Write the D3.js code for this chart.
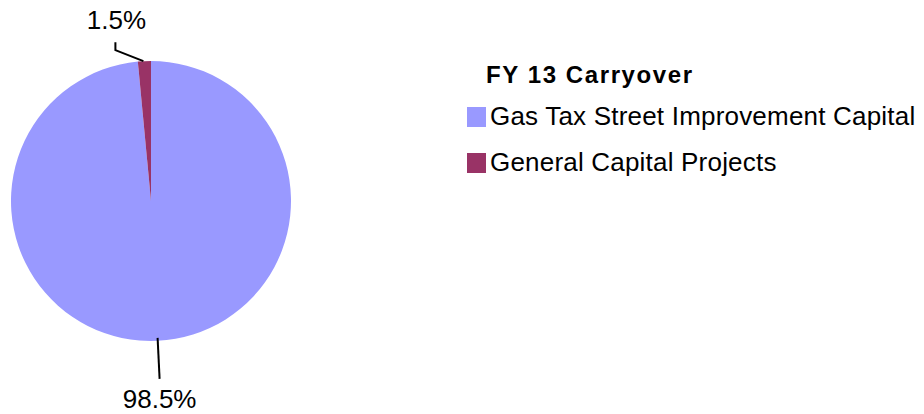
<!DOCTYPE html>
<html>
<head>
<meta charset="utf-8">
<script src="https://cdn.jsdelivr.net/npm/d3@7/dist/d3.min.js"></script>
<style>
  body { margin: 0; background: #fff; }
  text { font-family: "Liberation Sans", Arial, sans-serif; fill: #000; }
</style>
</head>
<body>
<div id="chart"></div>
<script>
// chart data
var categories = ["Gas Tax Street Improvement Capital", "General Capital Projects"];
var shares = [98.5, 1.5];
var pctLabels = ["98.5%", "1.5%"];
var colors = ["#9999FF", "#993366"];
var legendTitle = "FY 13 Carryover";

var width = 924;
var height = 414;
var cx = 151;
var cy = 201;
var radius = 140;

var svg = d3.select("#chart")
    .append("svg")
    .attr("width", width)
    .attr("height", height);

var pie = d3.pie()
    .sort(null)
    .value(function(d) { return d; });

var arc = d3.arc()
    .innerRadius(0)
    .outerRadius(radius);

var slices = pie(shares);

var pieG = svg.append("g")
    .attr("transform", `translate(${cx}, ${cy})`);

pieG.selectAll("path")
    .data(slices)
    .enter()
    .append("path")
    .attr("d", arc)
    .attr("fill", function(d, i) { return colors[i]; });

// leader lines + labels
// point on the rim at the middle of each slice
function rimPoint(d) {
  var a = (d.startAngle + d.endAngle) / 2;
  return [radius * Math.sin(a), -radius * Math.cos(a)];
}

// big slice: line straight down, label under it
var p0 = rimPoint(slices[0]);
pieG.append("path")
    .attr("d", d3.line()([[p0[0], p0[1] - 3], [p0[0] + 2, p0[1] + 38]]))
    .attr("fill", "none")
    .attr("stroke", "#000")
    .attr("stroke-width", 2);
pieG.append("text")
    .attr("x", p0[0] + 2)
    .attr("y", p0[1] + 67)
    .attr("text-anchor", "middle")
    .style("font-size", "26px")
    .text(pctLabels[0]);

// small slice: elbow line up-left, label above
var p1 = rimPoint(slices[1]);
pieG.append("path")
    .attr("d", d3.line()([[p1[0] - 1, p1[1]], [p1[0] - 29, p1[1] - 11], [p1[0] - 29, p1[1] - 19]]))
    .attr("fill", "none")
    .attr("stroke", "#000")
    .attr("stroke-width", 2);
pieG.append("text")
    .attr("x", p1[0] - 28)
    .attr("y", p1[1] - 32)
    .attr("text-anchor", "middle")
    .style("font-size", "26px")
    .text(pctLabels[1]);

// legend
var legend = svg.append("g")
    .attr("transform", "translate(467, 0)");

legend.append("text")
    .attr("x", 19)
    .attr("y", 83)
    .style("font-size", "24px")
    .style("font-weight", "bold")
    .style("letter-spacing", "1.6px")
    .text(legendTitle);

var items = legend.selectAll("g.item")
    .data(categories)
    .enter()
    .append("g")
    .attr("class", "item")
    .attr("transform", function(d, i) { return `translate(0, ${107 + i * 46})`; });

items.append("rect")
    .attr("width", 19)
    .attr("height", 20)
    .attr("fill", function(d, i) { return colors[i]; });

items.append("text")
    .attr("x", 23)
    .attr("y", 18)
    .style("font-size", "26px")
    .style("letter-spacing", "0.2px")
    .text(function(d) { return d; });
</script>
</body>
</html>
